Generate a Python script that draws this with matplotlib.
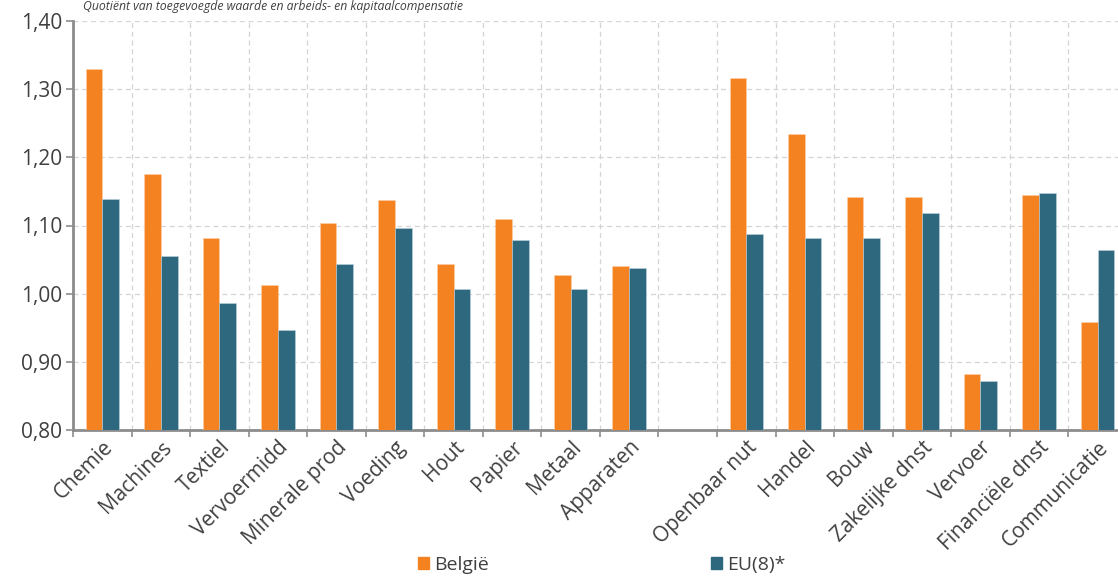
import numpy as np
import matplotlib
matplotlib.use("Agg")
import matplotlib.pyplot as plt
from matplotlib.ticker import FuncFormatter, FixedLocator
from matplotlib.patches import Patch

plt.rcParams['font.family'] = ['Open Sans', 'DejaVu Sans']

# Sectoren (lege plaats tussen industrie en diensten)
industrie = ['Chemie', 'Machines', 'Textiel', 'Vervoermidd', 'Minerale prod',
             'Voeding', 'Hout', 'Papier', 'Metaal', 'Apparaten']
diensten = ['Openbaar nut', 'Handel', 'Bouw', 'Zakelijke dnst', 'Vervoer',
            'Financiële dnst', 'Communicatie']

belgie_ind = [1.330, 1.176, 1.082, 1.013, 1.103, 1.138, 1.043, 1.109, 1.028, 1.040]
eu_ind = [1.139, 1.055, 0.986, 0.947, 1.044, 1.096, 1.007, 1.079, 1.007, 1.038]
belgie_dns = [1.316, 1.234, 1.142, 1.142, 0.882, 1.145, 0.958]
eu_dns = [1.088, 1.081, 1.081, 1.119, 0.872, 1.148, 1.064]

oranje = '#F58220'
blauw = '#2E687E'
tekst = '#404040'
as_kleur = '#8C8C8C'

labels = industrie + diensten
pos = np.concatenate([np.arange(len(industrie)),
                      np.arange(len(diensten)) + len(industrie) + 1])
belgie = belgie_ind + belgie_dns
eu = eu_ind + eu_dns

fig = plt.figure(figsize=(11.18, 5.79), dpi=100)
ax = fig.add_axes([73 / 1118, 1 - 430 / 579, 1 - 73 / 1118, (430 - 21) / 579])

b = 0.285
ax.bar(pos - b / 2, belgie, width=b, bottom=0, color=oranje,
       edgecolor='#FBD0A8', linewidth=0.4, label='België', zorder=3)
ax.bar(pos + b / 2, eu, width=b, bottom=0, color=blauw,
       edgecolor='#BFD3DB', linewidth=0.4, label='EU(8)*', zorder=3)

ax.set_ylim(0.80, 1.40)
ax.set_xlim(-0.5, 17.35)
ax.set_yticks(np.arange(0.80, 1.401, 0.10))
ax.yaxis.set_major_formatter(FuncFormatter(lambda v, p: f"{v:.2f}".replace('.', ',')))

ax.set_xticks(pos)
ax.set_xticklabels(labels, rotation=45, ha='right', rotation_mode='anchor')
ax.xaxis.set_minor_locator(FixedLocator(np.arange(-0.5, 18, 1.0)))

ax.tick_params(axis='x', which='major', length=0, pad=5, labelsize=15, labelcolor=tekst)
ax.tick_params(axis='x', which='minor', length=5, width=1.2, color=as_kleur)
ax.tick_params(axis='y', length=5, width=1.2, color=as_kleur, labelsize=15, labelcolor=tekst, pad=3)

ax.grid(True, axis='y', which='major', linestyle=(0, (4, 3)), color='#D4D4D4', linewidth=0.9, zorder=0)
ax.grid(True, axis='x', which='minor', linestyle=(0, (4, 3)), color='#D4D4D4', linewidth=0.9, zorder=0)

for s in ['top', 'right']:
    ax.spines[s].set_visible(False)
for s in ['left', 'bottom']:
    ax.spines[s].set_color(as_kleur)
    ax.spines[s].set_linewidth(2)
ax.set_axisbelow(True)

fig.text(0.244, 0.988, 'Quotiënt van toegevoegde waarde en arbeids- en kapitaalcompensatie',
         ha='center', va='center', style='italic', fontsize=8.8, color=tekst)

handles = [Patch(color=oranje, label='België'), Patch(color=blauw, label='EU(8)*')]
fig.legend(handles=handles, loc='center', bbox_to_anchor=(0.538, 0.024),
           ncol=2, frameon=False, handlelength=0.6, handleheight=0.6, handletextpad=0.25,
           columnspacing=11.4, fontsize=14, labelcolor=tekst, borderaxespad=0,
           borderpad=0.1)

fig.savefig('out.png', dpi=100)
